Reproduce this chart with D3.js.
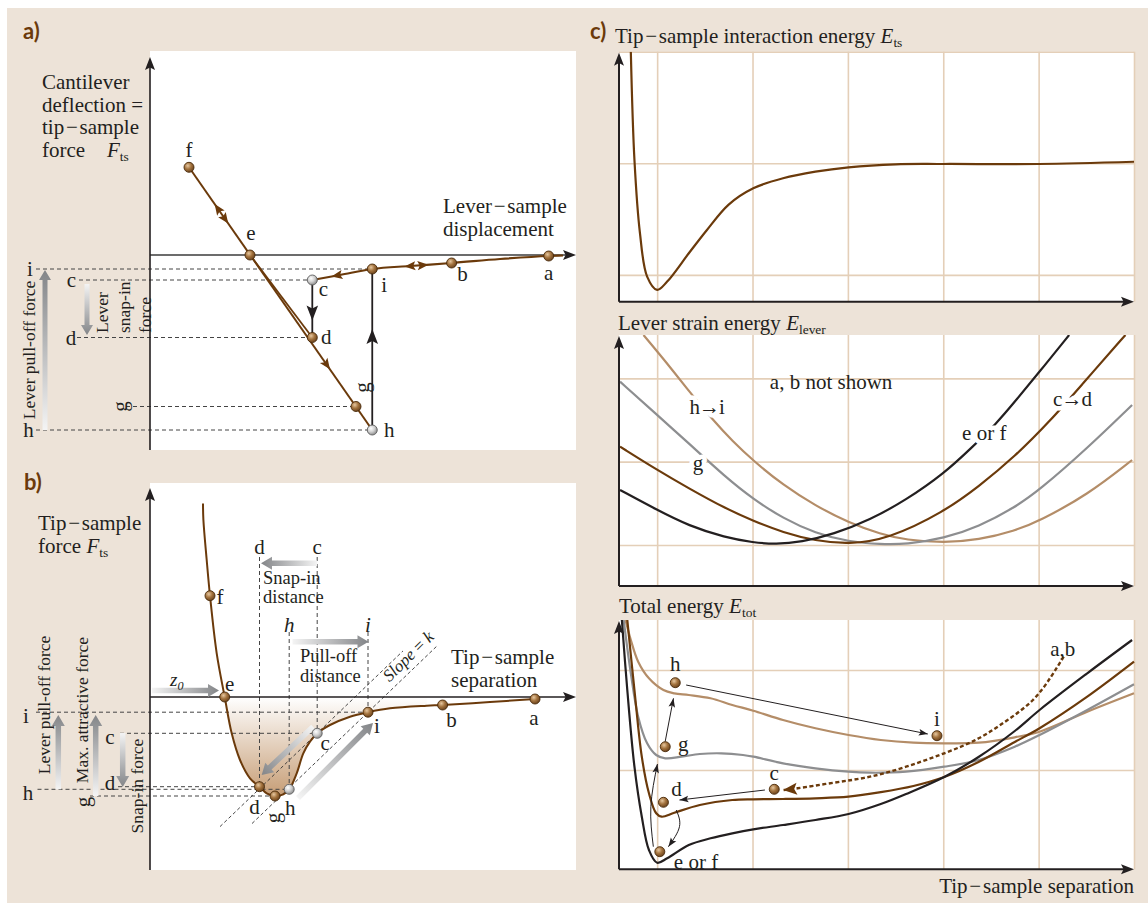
<!DOCTYPE html>
<html>
<head>
<meta charset="utf-8">
<script src="https://cdn.jsdelivr.net/npm/d3@7"></script>
<style>
  body { margin: 0; background: #fff; }
  svg { display: block; }
  text { font-family: "Liberation Serif", "Times New Roman", serif; fill: #231f20; }
  .plab { font-family: Lato, "Open Sans", sans-serif; font-weight: bold; fill: #6b3a0b; }
</style>
</head>
<body>
<div id="fig"></div>
<script>
// ---------- data ----------
// panel a : lever deflection vs lever-sample displacement (axis units)
const aPointNames = ["a", "b", "c", "d", "e", "f", "g", "h", "i"];
const aPointX = [7.974, 6.032, 3.246, 3.246, 2.0, 0.78, 4.12, 4.445, 4.445];
const aPointY = [-0.02, -0.16, -0.5, -1.65, 0, 1.754, -3.03, -3.5, -0.28];
const aGrayPoints = ["c", "h"];
const aApproachX = [3.246, 3.8, 4.445, 5.2, 6.032, 7.0, 7.974, 8.26];
const aApproachY = [-0.5, -0.4, -0.28, -0.22, -0.16, -0.08, -0.02, -0.01];
// arrowheads along segments (fraction t along from->to)
const aArrows = [
  { from: "f", to: "h", t: 0.157, rev: true, kind: "brown" },
  { from: "f", to: "h", t: 0.197, rev: false, kind: "brown" },
  { from: "f", to: "h", t: 0.752, rev: false, kind: "brown" },
  { from: "i", to: "b", t: 0.475, rev: true, kind: "brown" },
  { from: "i", to: "b", t: 0.64, rev: false, kind: "brown" },
  { from: "i", to: "c", t: 0.59, rev: false, kind: "brown" },
  { from: "c", to: "d", t: 0.574, rev: false, kind: "black" },
  { from: "h", to: "i", t: 0.58, rev: false, kind: "black" }
];
const aLevelLines = [["i", -2.28], ["c", -1.42], ["d", -1.46], ["g", -0.48], ["h", -2.28]];
const aLevelLabels = [["i", -2.4], ["c", -1.57], ["d", -1.58], ["g", -0.6], ["h", -2.43]];

// panel b : tip-sample force vs separation
const bPointNames = ["a", "b", "c", "d", "e", "f", "g", "h", "i"];
const bPointX = [7.7, 5.852, 3.344, 2.19, 1.494, 1.2, 2.5, 2.784, 4.36];
const bPointY = [-0.04, -0.16, -0.726, -1.794, 0, 2.026, -1.98, -1.846, -0.304];
const bGrayPoints = ["c", "h"];
const bForceX = [1.06, 1.068, 1.134, 1.2, 1.334, 1.494, 1.634, 1.8, 2.0, 2.19, 2.334, 2.5, 2.666, 2.784, 2.934, 3.066, 3.2, 3.344, 3.6, 4.0, 4.36, 4.8, 5.534, 5.852, 6.8, 7.7, 7.8];
const bForceY = [3.87, 3.54, 2.74, 2.026, 0.874, 0, -0.726, -1.26, -1.626, -1.794, -1.926, -1.98, -1.946, -1.846, -1.526, -1.126, -0.894, -0.726, -0.56, -0.394, -0.304, -0.226, -0.174, -0.16, -0.1, -0.04, -0.03];
const bLevelLines = [["i", -2.28], ["c", -0.6], ["d", -0.64], ["h", -2.25], ["g", -1.2]];
const bLevelLabels = [["i", -2.48], ["h", -2.44], ["c", -0.8], ["d", -0.8], ["g", -1.34]];
const bDropLines = [["d", 2.8], ["c", 2.8], ["h", 1.3], ["i", 1.3]];
const slopeK = 0.96;
const bSlopeLines = [["c", 1.4, 5.06], ["i", 2.04, 5.74]];
// grey "block" arrows [x1, y1, x2, y2]
const bBlockArrows = [
  [0.04, 0.13, 1.38, 0.13],
  [3.344, 2.674, 2.22, 2.674],
  [2.85, 1.106, 4.37, 1.106],
  [3.26, -0.594, 2.234, -1.56],
  [2.96, -2.02, 4.46, -0.52],
  [-1.834, -1.846, -1.834, -0.36],
  [-1.086, -1.98, -1.086, -0.36],
  [-0.546, -0.72, -0.546, -1.8]
];
const aBlockArrows = [
  [-2.1, -3.5, -2.1, -0.3],
  [-1.26, -0.58, -1.26, -1.6]
];

// panel c : energies, x in grid units, y in grid units
const gridX = [0, 1, 2, 3, 4, 5];
const etsCurve = [[-0.276, 1.0], [-0.238, 0.03], [-0.18, -0.627], [-0.105, -1.015], [0.0, -1.134], [0.105, -1.06], [0.332, -0.806], [0.522, -0.597], [0.75, -0.37], [1.008, -0.224], [1.32, -0.134], [1.66, -0.075], [2.007, -0.036], [2.5, -0.009], [3.0, -0.006], [4.0, -0.006], [5.0, 0.014]];

const leverEF = [[-0.389, 0.66], [0.0, 0.42], [0.332, 0.23], [0.712, 0.09], [1.008, 0.03], [1.244, 0.008], [1.51, 0.035], [1.85, 0.13], [2.23, 0.3], [2.61, 0.54], [3.01, 0.86], [3.29, 1.16], [3.56, 1.46], [3.75, 1.72], [4.01, 2.08], [4.32, 2.52]];
const leverCD = [[-0.389, 1.18], [0.0, 0.9], [0.332, 0.68], [0.712, 0.44], [1.008, 0.29], [1.32, 0.15], [1.66, 0.05], [2.007, 0.01], [2.42, 0.07], [3.01, 0.4], [3.37, 0.7], [3.75, 1.06], [4.13, 1.5], [4.45, 1.92], [4.91, 2.52]];
const leverG = [[-0.389, 1.96], [0.0, 1.56], [0.332, 1.22], [0.712, 0.82], [1.008, 0.55], [1.32, 0.32], [1.66, 0.14], [2.007, 0.04], [2.345, 0.008], [2.61, 0.008], [3.01, 0.08], [3.37, 0.22], [3.75, 0.45], [4.01, 0.66], [4.51, 1.16], [4.98, 1.68]];
const leverHI = [[-0.143, 2.52], [0.105, 2.18], [0.295, 1.9], [0.599, 1.48], [0.788, 1.25], [1.008, 1.01], [1.32, 0.72], [1.66, 0.47], [2.007, 0.27], [2.345, 0.13], [2.61, 0.06], [3.01, 0.028], [3.37, 0.06], [3.75, 0.17], [4.01, 0.29], [4.51, 0.6], [4.98, 1.02]];

const totalHI = [[-0.332, 1.5], [-0.276, 1.3], [-0.199, 1.083], [-0.086, 0.917], [0.066, 0.8], [0.18, 0.767], [0.332, 0.75], [0.56, 0.717], [0.788, 0.65], [1.008, 0.593], [1.32, 0.5], [1.66, 0.417], [2.007, 0.35], [2.345, 0.3], [2.687, 0.273], [3.01, 0.267], [3.37, 0.273], [3.75, 0.327], [4.01, 0.383], [4.51, 0.583], [5.0, 0.767]];
const totalG = [[-0.351, 1.5], [-0.276, 0.967], [-0.199, 0.533], [-0.105, 0.267], [-0.01, 0.15], [0.085, 0.117], [0.256, 0.133], [0.447, 0.16], [0.674, 0.167], [0.9, 0.15], [1.008, 0.133], [1.32, 0.067], [1.66, 0.017], [2.007, -0.017], [2.23, -0.027], [2.61, -0.017], [3.01, 0.033], [3.37, 0.1], [3.75, 0.233], [4.01, 0.35], [4.51, 0.6], [5.0, 0.857]];
const totalCD = [[-0.313, 1.5], [-0.238, 0.8], [-0.161, 0.133], [-0.086, -0.233], [-0.01, -0.433], [0.047, -0.467], [0.18, -0.427], [0.447, -0.35], [0.788, -0.3], [1.008, -0.293], [1.32, -0.29], [1.66, -0.283], [2.007, -0.267], [2.345, -0.222], [2.687, -0.16], [3.01, -0.07], [3.37, 0.08], [3.75, 0.28], [4.01, 0.417], [4.51, 0.733], [5.0, 1.083]];
const totalEF = [[-0.37, 1.5], [-0.313, 0.8], [-0.238, 0.033], [-0.161, -0.467], [-0.086, -0.8], [0.0, -0.927], [0.105, -0.883], [0.332, -0.75], [0.56, -0.683], [0.788, -0.633], [1.008, -0.593], [1.32, -0.55], [1.66, -0.5], [2.007, -0.44], [2.345, -0.34], [2.61, -0.24], [3.01, -0.07], [3.37, 0.13], [3.75, 0.39], [4.01, 0.6], [4.51, 0.967], [4.98, 1.3]];

const totPointNames = ["h", "g", "d", "e or f", "c", "i"];
const totPointX = [0.19, 0.085, 0.066, 0.028, 1.228, 2.934];
const totPointY = [0.873, 0.233, -0.323, -0.817, -0.193, 0.343];
const totArrowHI = [[0.304, 0.85], [2.838, 0.36]];
const totArrowCD = [[1.13, -0.2], [0.234, -0.3]];
const totArrowGH = [[0.084, 0.283], [0.171, 0.717]];
const totArrowEG = [[-0.04, -0.767], [-0.066, -0.367], [0.003, 0.06]];
const totArrowDE = [[0.2, -0.4], [0.234, -0.567], [0.118, -0.767]];
const totApproach = [[4.263, 1.133], [4.13, 0.933], [3.94, 0.7], [3.674, 0.5], [3.371, 0.317], [3.01, 0.167], [2.61, 0.033], [2.232, -0.067], [1.851, -0.127], [1.472, -0.183], [1.32, -0.2]];

// ---------- layout / style ----------
const W = 1148, H = 903;
const BROWN = "#6b3a0b", TAN = "#b48d68", GRAY = "#8d8e90", BLACK = "#231f20";
const GRID = "#e4cfb8", BEIGE = "#ede3d8";
const FS = 21, FSR = 17.5;

const svg = d3.select("#fig").append("svg").attr("width", W).attr("height", H);
const defs = svg.append("defs");
svg.append("rect").attr("x", 7).attr("y", 8).attr("width", W - 7).attr("height", H - 8).attr("fill", BEIGE);

function radial(id, stops) {
  const g = defs.append("radialGradient").attr("id", id)
    .attr("cx", "38%").attr("cy", "34%").attr("r", "68%");
  stops.forEach(s => g.append("stop").attr("offset", s[0]).attr("stop-color", s[1]));
}
radial("ptBrown", [[0, "#e6c7a0"], [0.5, "#a4743f"], [1, "#6a421c"]]);
radial("ptGray", [[0, "#ffffff"], [0.5, "#d2d2d2"], [1, "#8a8a8a"]]);

// triangular head, tip at (tx,ty)
function headPath(tx, ty, ang, len, hw) {
  const c = Math.cos(ang), s = Math.sin(ang);
  const bx = tx - c * len, by = ty - s * len;
  const nx = tx - c * len * 0.8, ny = ty - s * len * 0.8;
  return `M${tx},${ty}L${bx - s * hw},${by + c * hw}L${nx},${ny}L${bx + s * hw},${by - c * hw}Z`;
}

let gid = 0;
function blockArrow(sel, x1, y1, x2, y2, sw, hl, hw) {
  const id = "ga" + (gid++);
  const lg = defs.append("linearGradient").attr("id", id).attr("gradientUnits", "userSpaceOnUse")
    .attr("x1", x1).attr("y1", y1).attr("x2", x2).attr("y2", y2);
  lg.append("stop").attr("offset", 0).attr("stop-color", "#f4f4f4");
  lg.append("stop").attr("offset", 1).attr("stop-color", "#838588");
  const ang = Math.atan2(y2 - y1, x2 - x1), c = Math.cos(ang), s = Math.sin(ang);
  const bx = x2 - c * hl, by = y2 - s * hl, h = sw / 2, nx = -s, ny = c;
  const pts = [[x1 + nx * h, y1 + ny * h], [bx + nx * h, by + ny * h], [bx + nx * hw, by + ny * hw], [x2, y2],
    [bx - nx * hw, by - ny * hw], [bx - nx * h, by - ny * h], [x1 - nx * h, y1 - ny * h]];
  sel.append("path").attr("d", "M" + pts.map(p => p.join(",")).join("L") + "Z").attr("fill", `url(#${id})`);
}

function txt(sel, x, y, s, o = {}) {
  const t = sel.append("text").attr("x", x).attr("y", y).attr("font-size", o.size || FS).text(s);
  if (o.anchor) t.attr("text-anchor", o.anchor);
  if (o.mid) t.attr("dy", "0.35em");
  if (o.italic) t.attr("font-style", "italic");
  if (o.rot != null) t.attr("transform", `rotate(${o.rot},${x},${y})`);
  return t;
}
function subText(sel, x, y, pre, main, sub, size) {
  const t = sel.append("text").attr("x", x).attr("y", y).attr("font-size", size);
  if (pre) t.append("tspan").text(pre);
  t.append("tspan").attr("font-style", "italic").text(main);
  t.append("tspan").attr("font-size", size * 0.64).attr("dy", size * 0.2).text(sub);
  return t;
}

function dots(sel, pts, grayNames) {
  sel.selectAll(null).data(pts).join("circle")
    .attr("cx", d => d.px).attr("cy", d => d.py).attr("r", 5)
    .attr("fill", d => grayNames.includes(d.name) ? "url(#ptGray)" : "url(#ptBrown)")
    .attr("stroke", d => grayNames.includes(d.name) ? "#5e5e5e" : "#4a2a0a")
    .attr("stroke-width", 0.9);
}

const DASH = "4,3";
const MINUS = "\u200a\u2212\u200a";

// ============ panel a ============
const xA = d3.scaleLinear().domain([0, 8.52]).range([150, 576]);
const yA = d3.scaleLinear().domain([-3.9, 4.08]).range([450, 51]);
const ptA = n => { const k = aPointNames.indexOf(n); return { name: n, x: aPointX[k], y: aPointY[k], px: xA(aPointX[k]), py: yA(aPointY[k]) }; };
const gA = svg.append("g");
gA.append("rect").attr("x", xA(0)).attr("y", yA(4.08)).attr("width", xA(8.52) - xA(0))
  .attr("height", yA(-3.9) - yA(4.08)).attr("fill", "#fff");

txt(gA, 23, 39, "a)", { size: 22 }).attr("class", "plab");

// dashed level lines
aLevelLines.forEach(([n, x0]) => {
  const p = ptA(n);
  gA.append("line").attr("x1", xA(x0)).attr("x2", p.px).attr("y1", p.py).attr("y2", p.py)
    .attr("stroke", "#444").attr("stroke-width", 1).attr("stroke-dasharray", DASH);
});
aLevelLabels.forEach(([n, x]) => {
  const p = ptA(n);
  txt(gA, xA(x), p.py, n, { anchor: "middle", mid: true, rot: n === "g" ? -90 : null });
});

// axes
gA.append("line").attr("x1", xA(0)).attr("x2", xA(8.4)).attr("y1", yA(0)).attr("y2", yA(0))
  .attr("stroke", "#3b3b3b").attr("stroke-width", 1.6);
gA.append("path").attr("d", headPath(xA(8.52), yA(0), 0, 13, 5)).attr("fill", BLACK);
gA.append("line").attr("x1", xA(0)).attr("x2", xA(0)).attr("y1", yA(-3.9)).attr("y2", yA(3.8))
  .attr("stroke", BLACK).attr("stroke-width", 1.6);
gA.append("path").attr("d", headPath(xA(0), yA(3.96), -Math.PI / 2, 13, 5)).attr("fill", BLACK);

// block arrows
aBlockArrows.forEach(a => blockArrow(gA, xA(a[0]), yA(a[1]), xA(a[2]), yA(a[3]), 5, 10, 6));

// curves
const fA = ptA("f"), hA = ptA("h"), eA = ptA("e"), dA = ptA("d"), cA = ptA("c"), iA = ptA("i");
gA.append("line").attr("x1", eA.px).attr("y1", eA.py).attr("x2", dA.px).attr("y2", dA.py)
  .attr("stroke", BROWN).attr("stroke-width", 1.8);
gA.append("line").attr("x1", fA.px).attr("y1", fA.py).attr("x2", hA.px).attr("y2", hA.py)
  .attr("stroke", BROWN).attr("stroke-width", 2);
gA.append("path").datum(aApproachX.map((x, k) => [x, aApproachY[k]]))
  .attr("d", d3.line().x(d => xA(d[0])).y(d => yA(d[1])).curve(d3.curveMonotoneX))
  .attr("fill", "none").attr("stroke", BROWN).attr("stroke-width", 2.2);
gA.append("line").attr("x1", cA.px).attr("y1", cA.py).attr("x2", dA.px).attr("y2", dA.py)
  .attr("stroke", BLACK).attr("stroke-width", 1.8);
gA.append("line").attr("x1", hA.px).attr("y1", hA.py).attr("x2", iA.px).attr("y2", iA.py)
  .attr("stroke", BLACK).attr("stroke-width", 1.8);

aArrows.forEach(a => {
  const p = ptA(a.from), q = ptA(a.to);
  let ang = Math.atan2(q.py - p.py, q.px - p.px);
  if (a.rev) ang += Math.PI;
  const len = a.kind === "black" ? 15 : 11, hw = a.kind === "black" ? 5.8 : 4.6;
  const cx = p.px + (q.px - p.px) * a.t, cy = p.py + (q.py - p.py) * a.t;
  gA.append("path").attr("d", headPath(cx + Math.cos(ang) * len / 2, cy + Math.sin(ang) * len / 2, ang, len, hw))
    .attr("fill", a.kind === "black" ? BLACK : BROWN);
});

dots(gA, aPointNames.map(ptA), aGrayPoints);
const aLabelOff = { a: [0, 17], b: [11, 11], c: [11, 9], d: [14, -1], e: [1, -22], f: [0, -18], g: [6, -19], h: [17, 0], i: [12, 16] };
aPointNames.forEach(n => {
  const p = ptA(n), o = aLabelOff[n];
  txt(gA, p.px + o[0], p.py + o[1], n, { anchor: "middle", mid: true, rot: n === "g" ? -90 : null });
});

// titles
["Cantilever", "deflection =", "tip" + MINUS + "sample", "force"].forEach((s, k) => txt(gA, 42, 89 + k * 22.6, s));
subText(gA, 107, 157, null, "F", "ts", FS);
txt(gA, 443, 213, "Lever" + MINUS + "sample");
txt(gA, 443, 236, "displacement");
txt(gA, 29, 350, "Lever pull-off force", { size: FSR, anchor: "middle", mid: true, rot: -90 });
["Lever", "snap-in", "force"].forEach((s, k) => txt(gA, [102, 124, 145][k], 333, s, { size: FSR, mid: true, rot: -90 }));

// ============ panel b ============
const xB = d3.scaleLinear().domain([0, 8.52]).range([150, 576]);
const yB = d3.scaleLinear().domain([-3.46, 4.28]).range([870, 483]);
const ptB = n => { const k = bPointNames.indexOf(n); return { name: n, x: bPointX[k], y: bPointY[k], px: xB(bPointX[k]), py: yB(bPointY[k]) }; };
const gB = svg.append("g");
gB.append("rect").attr("x", xB(0)).attr("y", yB(4.28)).attr("width", xB(8.52) - xB(0))
  .attr("height", yB(-3.46) - yB(4.28)).attr("fill", "#fff");
txt(gB, 24, 490, "b)", { size: 22 }).attr("class", "plab");

const force = bForceX.map((x, k) => [x, bForceY[k]]);
// shaded attractive well
const sg = defs.append("linearGradient").attr("id", "shade").attr("gradientUnits", "userSpaceOnUse")
  .attr("x1", 0).attr("x2", 0).attr("y1", yB(0)).attr("y2", yB(-1.98));
sg.append("stop").attr("offset", 0).attr("stop-color", "#ffffff");
sg.append("stop").attr("offset", 1).attr("stop-color", "#c69d75");
gB.append("path").datum(force.filter(d => d[0] >= 1.494 && d[0] <= 5.6))
  .attr("d", d3.area().x(d => xB(d[0])).y0(yB(0)).y1(d => yB(d[1])).curve(d3.curveCatmullRom.alpha(0.5)))
  .attr("fill", "url(#shade)");

bLevelLines.forEach(([n, x0]) => {
  const p = ptB(n);
  gB.append("line").attr("x1", xB(x0)).attr("x2", p.px).attr("y1", p.py).attr("y2", p.py)
    .attr("stroke", "#444").attr("stroke-width", 1).attr("stroke-dasharray", DASH);
});
bDropLines.forEach(([n, y1]) => {
  const p = ptB(n);
  gB.append("line").attr("x1", p.px).attr("x2", p.px).attr("y1", yB(y1)).attr("y2", p.py)
    .attr("stroke", "#444").attr("stroke-width", 1).attr("stroke-dasharray", DASH);
});
bSlopeLines.forEach(([n, x0, x1]) => {
  const p = ptB(n);
  gB.append("line").attr("x1", xB(x0)).attr("y1", yB(p.y + slopeK * (x0 - p.x)))
    .attr("x2", xB(x1)).attr("y2", yB(p.y + slopeK * (x1 - p.x)))
    .attr("stroke", "#333").attr("stroke-width", 0.9).attr("stroke-dasharray", "3.5,2.5");
});
bLevelLabels.forEach(([n, x]) => {
  const p = ptB(n);
  txt(gB, xB(x), p.py + (n === "d" ? -4 : n === "g" ? 6 : 3), n, { anchor: "middle", mid: true, rot: n === "g" ? -90 : null });
});

gB.append("line").attr("x1", xB(0)).attr("x2", xB(8.4)).attr("y1", yB(0)).attr("y2", yB(0))
  .attr("stroke", BLACK).attr("stroke-width", 1.6);
gB.append("path").attr("d", headPath(xB(8.52), yB(0), 0, 13, 5)).attr("fill", BLACK);
gB.append("line").attr("x1", xB(0)).attr("x2", xB(0)).attr("y1", yB(-3.46)).attr("y2", yB(4.0))
  .attr("stroke", BLACK).attr("stroke-width", 1.6);
gB.append("path").attr("d", headPath(xB(0), yB(4.18), -Math.PI / 2, 13, 5)).attr("fill", BLACK);

bBlockArrows.forEach(a => blockArrow(gB, xB(a[0]), yB(a[1]), xB(a[2]), yB(a[3]), 5.5, 11, 6.5));

gB.append("path").datum(force)
  .attr("d", d3.line().x(d => xB(d[0])).y(d => yB(d[1])).curve(d3.curveCatmullRom.alpha(0.5)))
  .attr("fill", "none").attr("stroke", BROWN).attr("stroke-width", 2);

dots(gB, bPointNames.map(ptB), bGrayPoints);
const bLabelOff = { a: [-1, 19], b: [9, 15], c: [8, 9], d: [-5, 20], e: [5, -13], f: [10, 1], g: [-2, 22], h: [1, 18], i: [9, 13] };
bPointNames.forEach(n => {
  const p = ptB(n), o = bLabelOff[n];
  txt(gB, p.px + o[0], p.py + o[1], n, { anchor: "middle", mid: true, rot: n === "g" ? -90 : null });
});

// annotations
txt(gB, xB(2.19), yB(3.0), "d", { anchor: "middle", mid: true });
txt(gB, xB(3.344), yB(3.0), "c", { anchor: "middle", mid: true });
txt(gB, 263, 584, "Snap-in", { size: 18.5 });
txt(gB, 263, 603, "distance", { size: 18.5 });
txt(gB, xB(2.784), 625, "h", { anchor: "middle", mid: true, italic: true });
txt(gB, xB(4.36), 625, "i", { anchor: "middle", mid: true, italic: true });
txt(gB, 300, 662, "Pull-off", { size: 18.5 });
txt(gB, 300, 682, "distance", { size: 18.5 });
subText(gB, 170, 686, null, "z", "0", 19).attr("font-style", "italic");
const sl = txt(gB, 408, 656, "", { size: 17, anchor: "middle", mid: true, rot: -44.5 });
sl.append("tspan").attr("font-style", "italic").text("Slope");
sl.append("tspan").text(" = ");
sl.append("tspan").attr("font-style", "italic").text("k");
txt(gB, 38, 530, "Tip" + MINUS + "sample");
subText(gB, 38, 553, "force ", "F", "ts", FS);
txt(gB, 451, 664, "Tip" + MINUS + "sample");
txt(gB, 451, 687, "separation");
txt(gB, 44, 705, "Lever pull-off force", { size: FSR, anchor: "middle", mid: true, rot: -90 });
txt(gB, 82, 710, "Max. attractive force", { size: FSR, anchor: "middle", mid: true, rot: -90 });
txt(gB, 137, 786, "Snap-in force", { size: FSR, anchor: "middle", mid: true, rot: -90 });

// ============ panel c ============
const xC = d3.scaleLinear().domain([-0.4, 5]).range([619, 1134]);
const yTop = d3.scaleLinear().domain([-1.24, 1]).range([301.7, 51.7]);
const yMid = d3.scaleLinear().domain([-0.492, 2.52]).range([586, 335]);
const yBot = d3.scaleLinear().domain([-0.993, 1.5]).range([869.3, 620]);

function subplot(y, gridY, id, curve) {
  const g = svg.append("g");
  const [x0, x1] = xC.range(), [yb, yt] = y.range();
  g.append("rect").attr("x", x0).attr("y", yt).attr("width", x1 - x0).attr("height", yb - yt).attr("fill", "#fff");
  const style = a => { a.select(".domain").remove(); a.selectAll("line").attr("stroke", GRID).attr("stroke-width", 1.6); };
  g.append("g").attr("transform", `translate(0,${yb})`)
    .call(d3.axisBottom(xC).tickValues(gridX).tickSize(-(yb - yt)).tickFormat("")).call(style);
  g.append("g").attr("transform", `translate(${x0},0)`)
    .call(d3.axisLeft(y).tickValues(gridY).tickSize(-(x1 - x0)).tickFormat("")).call(style);
  defs.append("clipPath").attr("id", id).append("rect")
    .attr("x", x0).attr("y", yt).attr("width", x1 - x0 + 2).attr("height", yb - yt);
  const body = g.append("g").attr("clip-path", `url(#${id})`);
  const line = d3.line().x(d => xC(d[0])).y(d => y(d[1])).curve(curve);
  return { g, body, line, axes: () => {
    g.append("line").attr("x1", x0).attr("x2", x1 - 8).attr("y1", yb).attr("y2", yb).attr("stroke", BLACK).attr("stroke-width", 2);
    g.append("path").attr("d", headPath(x1, yb, 0, 13, 5)).attr("fill", BLACK);
    g.append("line").attr("x1", x0).attr("x2", x0).attr("y1", yb).attr("y2", yt + 8).attr("stroke", BLACK).attr("stroke-width", 2);
    g.append("path").attr("d", headPath(x0, yt + 1, -Math.PI / 2, 13, 5)).attr("fill", BLACK);
  } };
}

txt(svg, 590, 39, "c)", { size: 22 }).attr("class", "plab");

// top: interaction energy
const pTop = subplot(yTop, [-1, 0, 1], "clipTop", d3.curveCatmullRom.alpha(0.5));
pTop.body.append("path").datum(etsCurve).attr("d", pTop.line)
  .attr("fill", "none").attr("stroke", BROWN).attr("stroke-width", 2.2);
pTop.axes();
subText(svg, 615, 43, "Tip" + MINUS + "sample interaction energy ", "E", "ts", FS);

// middle: lever strain energy
const pMid = subplot(yMid, [0, 1, 2], "clipMid", d3.curveBasis);
[[leverHI, TAN], [leverG, GRAY], [leverCD, BROWN], [leverEF, BLACK]].forEach(([d, c]) =>
  pMid.body.append("path").datum(d).attr("d", pMid.line)
    .attr("fill", "none").attr("stroke", c).attr("stroke-width", 2.2));
pMid.axes();
subText(svg, 618, 330, "Lever strain energy ", "E", "lever", FS);
const midLabels = [["a, b not shown", 1.824, 1.96, false], ["h\u2192i", 0.52, 1.657, true], ["g", 0.428, 0.984, true], ["e or f", 3.43, 1.345, true], ["c\u2192d", 4.35, 1.753, true]];
midLabels.forEach(([s, x, y, halo]) => {
  const t = txt(svg, xC(x), yMid(y), s, { anchor: "middle", mid: true }).attr("letter-spacing", s.length === 3 ? -1 : 0);
  if (halo) t.attr("stroke", "#fff").attr("stroke-width", 9).attr("stroke-linejoin", "round").attr("paint-order", "stroke");
});

// bottom: total energy
const pBot = subplot(yBot, [0, 1], "clipBot", d3.curveCatmullRom.alpha(0.5));
[[totalHI, TAN], [totalG, GRAY], [totalCD, BROWN], [totalEF, BLACK]].forEach(([d, c]) =>
  pBot.body.append("path").datum(d).attr("d", pBot.line)
    .attr("fill", "none").attr("stroke", c).attr("stroke-width", 2.2));
pBot.axes();
subText(svg, 619, 613, "Total energy ", "E", "tot", FS);
txt(svg, 1134, 893, "Tip" + MINUS + "sample separation", { anchor: "end" });

function pathArrow(sel, pts, curved, color, width, len, hw, dash) {
  const gen = d3.line().x(d => xC(d[0])).y(d => yBot(d[1]));
  if (curved) gen.curve(d3.curveNatural);
  const p = sel.append("path").datum(pts).attr("d", gen).attr("fill", "none")
    .attr("stroke", color).attr("stroke-width", width);
  if (dash) p.attr("stroke-dasharray", dash);
  const node = p.node(), L = node.getTotalLength();
  const end = node.getPointAtLength(L), back = node.getPointAtLength(Math.max(0, L - 4));
  const ang = Math.atan2(end.y - back.y, end.x - back.x);
  sel.append("path").attr("d", headPath(end.x, end.y, ang, len, hw)).attr("fill", color);
}
pathArrow(svg, totApproach, true, BROWN, 2.4, 14, 6, "4,2.5");
pathArrow(svg, totArrowHI, false, BLACK, 1, 9, 3.3);
pathArrow(svg, totArrowCD, false, BLACK, 1, 9, 3.3);
pathArrow(svg, totArrowGH, false, BLACK, 1, 9, 3.3);
pathArrow(svg, totArrowEG, true, BLACK, 1, 9, 3.3);
pathArrow(svg, totArrowDE, true, BLACK, 1, 9, 3.3);

const totPts = totPointNames.map((n, k) => ({ name: n, px: xC(totPointX[k]), py: yBot(totPointY[k]) }));
dots(svg.append("g"), totPts, []);
const totLabelOff = { "h": [0, -19], "g": [18, -3], "d": [13, -14], "c": [0, -17], "i": [0, -17] };
totPts.forEach(p => {
  if (p.name === "e or f") txt(svg, p.px + 14, p.py + 10, p.name, { mid: true });
  else txt(svg, p.px + totLabelOff[p.name][0], p.py + totLabelOff[p.name][1], p.name, { anchor: "middle", mid: true });
});
txt(svg, xC(4.263) - 1, yBot(1.133) - 8, "a,b", { anchor: "middle", mid: true });
</script>
</body>
</html>
